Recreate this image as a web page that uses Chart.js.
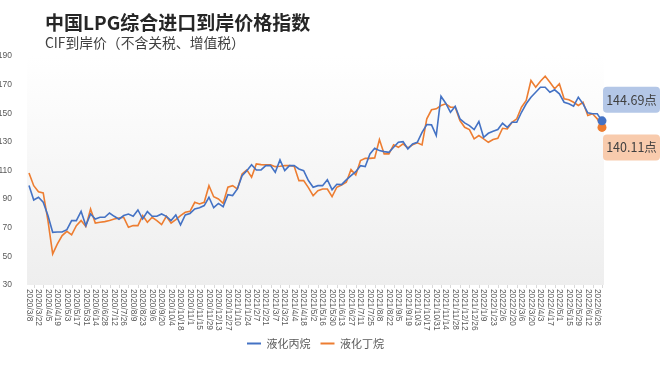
<!DOCTYPE html>
<html>
<head>
<meta charset="utf-8">
<script src="https://cdn.jsdelivr.net/npm/chart.js@4"></script>
<style>
html,body{margin:0;padding:0;background:#fff;}
#wrap{position:relative;width:664px;height:366px;overflow:hidden;}
#c{position:absolute;left:0;top:0;}
.title{position:absolute;left:45px;top:11px;font:bold 19px/21px "Noto Sans CJK SC";color:#262626;white-space:nowrap;}
.sub{position:absolute;left:45px;top:35px;font:13.8px/15px "Noto Sans CJK SC";color:#404040;white-space:nowrap;}
</style>
</head>
<body>
<div id="wrap">
  <canvas id="c" width="664" height="366"></canvas>
  <div class="title">中国LPG综合进口到岸价格指数</div>
  <div class="sub">CIF到岸价（不含关税、增值税）</div>
</div>
<script>
const dates = [
  '2020/3/8','2020/3/15','2020/3/22','2020/3/29','2020/4/5','2020/4/12','2020/4/19','2020/4/26','2020/5/3','2020/5/10',
  '2020/5/17','2020/5/24','2020/5/31','2020/6/7','2020/6/14','2020/6/21','2020/6/28','2020/7/5','2020/7/12','2020/7/19',
  '2020/7/26','2020/8/2','2020/8/9','2020/8/16','2020/8/23','2020/8/30','2020/9/6','2020/9/13','2020/9/20','2020/9/27',
  '2020/10/4','2020/10/11','2020/10/18','2020/10/25','2020/11/1','2020/11/8','2020/11/15','2020/11/22','2020/11/29','2020/12/6',
  '2020/12/13','2020/12/20','2020/12/27','2021/1/3','2021/1/10','2021/1/17','2021/1/24','2021/1/31','2021/2/7','2021/2/14',
  '2021/2/21','2021/2/28','2021/3/7','2021/3/14','2021/3/21','2021/3/28','2021/4/4','2021/4/11','2021/4/18','2021/4/25',
  '2021/5/2','2021/5/9','2021/5/16','2021/5/23','2021/5/30','2021/6/6','2021/6/13','2021/6/20','2021/6/27','2021/7/4',
  '2021/7/11','2021/7/18','2021/7/25','2021/8/1','2021/8/8','2021/8/15','2021/8/22','2021/8/29','2021/9/5','2021/9/12',
  '2021/9/19','2021/9/26','2021/10/3','2021/10/10','2021/10/17','2021/10/24','2021/10/31','2021/11/7','2021/11/14','2021/11/21',
  '2021/11/28','2021/12/5','2021/12/12','2021/12/19','2021/12/26','2022/1/2','2022/1/9','2022/1/16','2022/1/23','2022/1/30',
  '2022/2/6','2022/2/13','2022/2/20','2022/2/27','2022/3/6','2022/3/13','2022/3/20','2022/3/27','2022/4/3','2022/4/10',
  '2022/4/17','2022/4/24','2022/5/1','2022/5/8','2022/5/15','2022/5/22','2022/5/29','2022/6/5','2022/6/12','2022/6/19',
  '2022/6/26','2022/7/3'
];
// 液化丙烷
const propane = [
  99.5,89.4,91.3,87.8,78.5,66.8,67,67,68.7,75,
  75,81.5,71.5,79.6,76.1,77.3,77.3,80.3,78,76,
  78.5,79.6,78,82.4,76.1,81.3,78,78,79.6,78,
  75,79,72,79,80,83.1,84,85.5,91.3,84,
  87,84.7,93.1,92.5,97.1,106.4,109.9,114.1,110.4,110.4,
  113.4,113.4,108.8,117.4,109.9,113.4,113.4,111.1,109.9,103,
  98.3,99.4,99.4,103.6,96.6,100.4,100.1,103.4,106.4,109.2,
  113.4,112.7,121.6,125.5,123.9,123.2,122.7,126.2,129.7,130.2,
  125.1,128.6,129.7,136.7,142.1,141.9,134.4,161.9,157,150.7,
  154.9,146.1,143.3,141.4,138.6,144.2,133.2,136,137.4,138.6,
  143,140.2,143.7,143.7,150.7,156.6,161.2,164.7,168.2,168.2,
  164.7,166.4,163.6,157.7,156.6,154.9,161.2,156.6,150.3,149.6,
  149.6,144.69
];
// 液化丁烷
const butane = [
  108.3,99.4,95.2,94.3,75,51.7,58.7,64.5,67.5,65,
  71.5,75,70.8,83.1,73.3,73.8,74.3,75,76.1,76.8,
  77.3,70.3,71.5,71.5,78.5,73.8,77.3,75,72.2,78,
  73.3,75.7,78.5,80.8,81.5,87.8,86.6,87.8,99.4,91.7,
  90.1,87.1,98.3,99.4,97.1,107.6,110.4,105.3,114.6,114.1,
  113.9,113.9,112.7,113,113.4,113.4,113,102.9,102.9,98,
  92.4,95.9,97.1,97.1,91.7,98.3,99.9,101.8,110.6,106.9,
  116.9,118.5,118.5,118.8,131.6,121.6,121.6,127.9,126.2,128.6,
  125.8,127.9,129.3,127.9,146.1,152.4,153.1,155.4,156.6,154.2,
  154.2,144.9,140.2,138.6,132.1,134.4,132.1,129.7,131.6,132.5,
  139.5,139,143.7,146.1,154.2,158.9,172.9,168.2,172.4,175.9,
  171.7,167.1,170.6,160.1,159.4,157.7,155.4,157.7,148.4,149.6,
  146.1,140.11
];
const seriesNames = ['液化丙烷','液化丁烷'];
const seriesColors = ['#4472c4','#ed7d31'];
const calloutFills = ['#b4c7e7','#f8cbad'];
const yTicks = {min:30, max:190, step:20};

const last = dates.length - 1;

const areaBg = {
  id:'areaBg',
  beforeDraw(chart){
    const {ctx, chartArea:a} = chart;
    const g = ctx.createLinearGradient(0, a.top, 0, a.bottom);
    g.addColorStop(0, '#ffffff');
    g.addColorStop(1, '#eeeeee');
    ctx.save();
    ctx.fillStyle = g;
    ctx.fillRect(a.left - 2, a.top, a.right - a.left + 4, a.bottom - a.top);
    ctx.restore();
  }
};

// x labels read top-to-bottom, every other week
const xLabels = {
  id:'xLabels',
  afterDraw(chart){
    const {ctx, chartArea:a, scales:{x}} = chart;
    ctx.save();
    ctx.strokeStyle = '#d9d9d9';
    ctx.lineWidth = 1;
    ctx.beginPath();
    for (let i = 1; i < dates.length; i += 2) {
      const px = Math.round(x.getPixelForValue(i)) + 0.5;
      ctx.moveTo(px, a.bottom); ctx.lineTo(px, a.bottom + 3);
    }
    ctx.stroke();
    ctx.fillStyle = '#595959';
    ctx.font = '8.3px "Liberation Sans"';
    ctx.textAlign = 'left';
    ctx.textBaseline = 'middle';
    for (let i = 0; i < dates.length; i += 2) {
      ctx.save();
      ctx.translate(x.getPixelForValue(i), a.bottom + 4);
      ctx.rotate(Math.PI / 2);
      ctx.fillText(dates[i], 0, 0);
      ctx.restore();
    }
    ctx.restore();
  }
};

function roundRect(ctx, x, y, w, h, r){
  ctx.beginPath();
  ctx.moveTo(x + r, y);
  ctx.arcTo(x + w, y, x + w, y + h, r);
  ctx.arcTo(x + w, y + h, x, y + h, r);
  ctx.arcTo(x, y + h, x, y, r);
  ctx.arcTo(x, y, x + w, y, r);
  ctx.closePath();
}

const callouts = {
  id:'callouts',
  afterDraw(chart){
    const {ctx, scales:{x, y}} = chart;
    const px = x.getPixelForValue(last);
    const vals = [propane[last], butane[last]];
    ctx.save();
    ctx.font = '12.5px "Noto Sans CJK SC"';
    ctx.textAlign = 'center';
    ctx.textBaseline = 'middle';
    vals.forEach((v, k) => {
      const py = y.getPixelForValue(v);
      const top = k === 0 ? py - 34 : py + 7;
      roundRect(ctx, px + 1, top, 57, 26, 4);
      ctx.fillStyle = calloutFills[k];
      ctx.fill();
      ctx.fillStyle = '#404040';
      ctx.fillText(v.toFixed(2) + '点', px + 29.5, top + 13);
    });
    ctx.restore();
  }
};

const mkSet = (k, data) => ({
  label: seriesNames[k], data,
  borderColor: seriesColors[k], backgroundColor: seriesColors[k],
  borderWidth: 1.6, tension: 0,
  pointRadius: c => c.dataIndex === last ? 4.5 : 0,
  pointHoverRadius: 0, pointBorderWidth: 0,
  pointBackgroundColor: seriesColors[k], clip: false
});

new Chart(document.getElementById('c'), {
  type: 'line',
  data: { labels: dates, datasets: [mkSet(0, propane), mkSet(1, butane)] },
  options: {
    responsive: false, animation: false,
    layout: { padding: { top: 56, right: 62, bottom: 7, left: 0 } },
    scales: {
      x: { type:'category', offset:false, ticks:{ display:false }, grid:{ display:false }, border:{ display:false },
           afterFit(s){ s.height = 43; } },
      y: { min:yTicks.min, max:yTicks.max,
           ticks:{ stepSize:yTicks.step, color:'#595959', font:{ size:8.5, family:'Liberation Sans' }, padding:9 },
           grid:{ display:false }, border:{ display:false },
           afterFit(s){ s.width = 29; } }
    },
    plugins: {
      legend: { position:'bottom', fullSize:false,
        labels:{ boxWidth:14, boxHeight:2, color:'#595959', font:{ size:11, family:'Noto Sans CJK SC' }, padding:10,
          generateLabels: ch => Chart.defaults.plugins.legend.labels.generateLabels(ch).map(l => ({...l, lineWidth:0})) } },
      tooltip: { enabled:false }
    }
  },
  plugins: [areaBg, xLabels, callouts]
});
</script>
</body>
</html>
